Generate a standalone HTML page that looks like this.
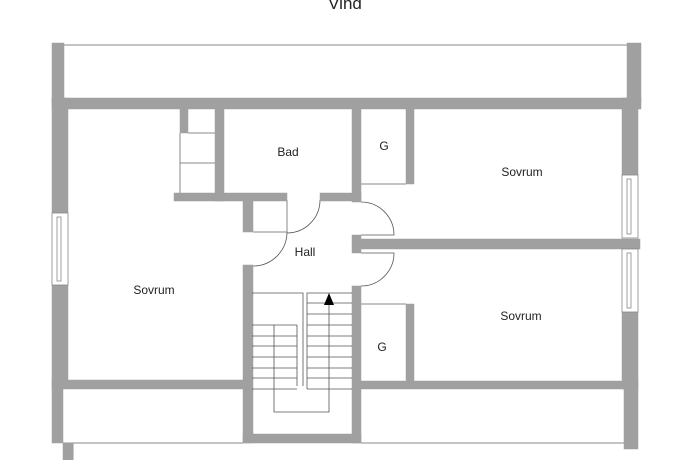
<!DOCTYPE html>
<html><head><meta charset="utf-8"><style>
html,body{margin:0;padding:0;background:#fff;}
svg{display:block}
text{font-family:"Liberation Sans",sans-serif;fill:#222;}
</style></head><body>
<svg width="690" height="460" viewBox="0 0 690 460" xmlns="http://www.w3.org/2000/svg">
<text x="345" y="9" font-size="17" text-anchor="middle">Vind</text>
<g stroke="#888" stroke-width="1" fill="none">
<line x1="64" y1="45" x2="627" y2="45"/>
<line x1="188" y1="133" x2="215" y2="133"/>
<line x1="180" y1="163" x2="215" y2="163"/>
<line x1="180" y1="133" x2="180" y2="193"/>
<line x1="361" y1="184" x2="406" y2="184"/>
<line x1="253" y1="232" x2="287" y2="232"/>
<line x1="287" y1="200" x2="287" y2="232"/>
<line x1="361" y1="304" x2="406" y2="304"/>
<line x1="63" y1="443" x2="243" y2="443"/>
<line x1="361" y1="443" x2="624" y2="443"/>
<line x1="73" y1="443" x2="73" y2="460"/>
</g>
<g stroke="#555" stroke-width="0.8" fill="none">
<path d="M320 200 A33 33 0 0 1 287 233"/>
<path d="M287 232 A34 34 0 0 1 253 266"/>
<path d="M361 202 A33 33 0 0 1 394 235 L361 235"/>
<path d="M361 253 L394 253 A33 33 0 0 1 361 286"/>
</g>
<g fill="#a0a0a0" stroke="#a0a0a0" stroke-width="0.5">
<rect x="52" y="43" width="12" height="60"/>
<rect x="627" y="43" width="14" height="60"/>
<rect x="52" y="98" width="589" height="11"/>
<rect x="52" y="98" width="16" height="115"/>
<rect x="52" y="285" width="16" height="104"/>
<rect x="52" y="380" width="11" height="63"/>
<rect x="63" y="443" width="10" height="17"/>
<rect x="622" y="98" width="16" height="77"/>
<rect x="622" y="312" width="16" height="77"/>
<rect x="624" y="380" width="14" height="69"/>
<rect x="180" y="109" width="8" height="24"/>
<rect x="215" y="109" width="9" height="92"/>
<rect x="174" y="193" width="113" height="8"/>
<rect x="320" y="193" width="41" height="8"/>
<rect x="352" y="109" width="9" height="93"/>
<rect x="406" y="109" width="8" height="75"/>
<rect x="243" y="200" width="10" height="32"/>
<rect x="352" y="235" width="9" height="18"/>
<rect x="361" y="239" width="279" height="10"/>
<rect x="352" y="286" width="9" height="157"/>
<rect x="406" y="304" width="8" height="77"/>
<rect x="361" y="381" width="263" height="8"/>
<rect x="68" y="380" width="175" height="9"/>
<rect x="243" y="265" width="10" height="178"/>
<rect x="243" y="434" width="118" height="9"/>
</g>
<g fill="#fff" stroke="#888" stroke-width="0.8">
<rect x="52" y="213" width="16" height="72"/>
<rect x="57" y="217" width="4" height="64"/>
<rect x="622" y="175" width="16" height="63"/>
<rect x="627" y="179" width="4" height="55"/>
<rect x="622" y="249" width="16" height="63"/>
<rect x="627" y="253" width="4" height="55"/>
</g>
<g stroke="#555" stroke-width="0.8" fill="none">
<path d="M252 293 H303 V386"/>
<path d="M307 389 V293 H352"/>
<line x1="297" y1="325" x2="297" y2="386"/>
<line x1="307" y1="303" x2="352" y2="303"/>
<line x1="307" y1="314" x2="352" y2="314"/>
<line x1="252" y1="325" x2="297" y2="325"/><line x1="307" y1="325" x2="352" y2="325"/>
<line x1="252" y1="336" x2="297" y2="336"/><line x1="307" y1="336" x2="352" y2="336"/>
<line x1="252" y1="346" x2="297" y2="346"/><line x1="307" y1="346" x2="352" y2="346"/>
<line x1="252" y1="357" x2="297" y2="357"/><line x1="307" y1="357" x2="352" y2="357"/>
<line x1="252" y1="368" x2="297" y2="368"/><line x1="307" y1="368" x2="352" y2="368"/>
<line x1="252" y1="378" x2="297" y2="378"/><line x1="307" y1="378" x2="352" y2="378"/>
<line x1="252" y1="389" x2="297" y2="389"/><line x1="307" y1="389" x2="352" y2="389"/>
<path d="M274 325 V412 H329 V300"/>
</g>
<polygon points="329,293 324,305 334,305" fill="#000"/>
<g font-size="12" text-anchor="middle">
<text x="288" y="156">Bad</text>
<text x="384" y="150">G</text>
<text x="522" y="176">Sovrum</text>
<text x="305" y="256">Hall</text>
<text x="154" y="294">Sovrum</text>
<text x="521" y="320">Sovrum</text>
<text x="382" y="351">G</text>
</g>
</svg>
</body></html>
